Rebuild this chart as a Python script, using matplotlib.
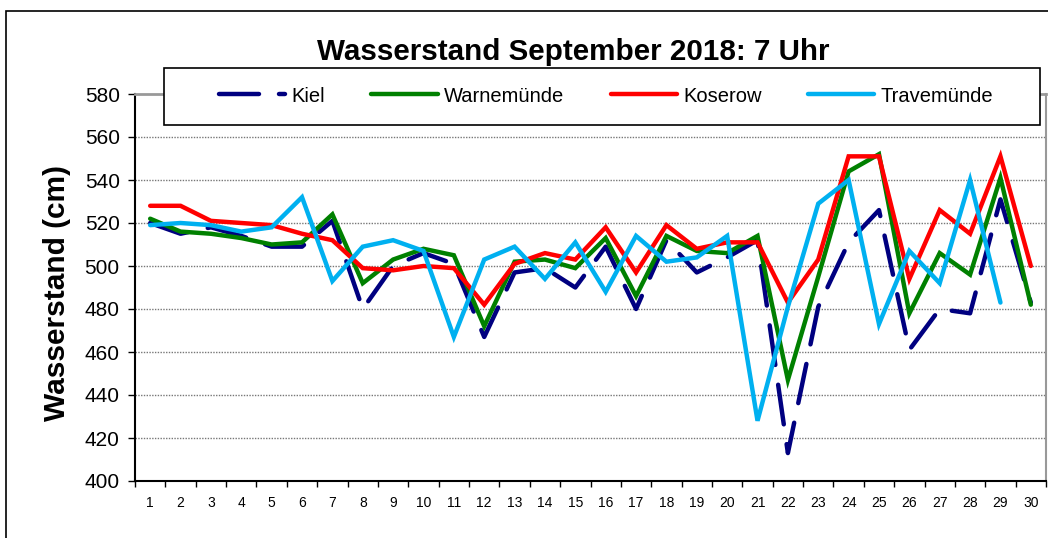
import matplotlib
matplotlib.use('Agg')
import matplotlib.pyplot as plt
from matplotlib.patches import Rectangle
import numpy as np

plt.rcParams['font.family'] = ['Liberation Sans', 'DejaVu Sans']

# water levels, September 2018, 7 o'clock (cm)
days = list(range(1, 31))
kiel = [520, 515, 518, 514, 509, 509, 521, 480, 500, 506,
        501, 467, 497, 499, 490, 509, 480, 512, 497, 504,
        512, 413, 481, 511, 526, 461, 480, 478, 531, 483]
warnemuende = [522, 516, 515, 513, 510, 511, 524, 492, 503, 508,
               505, 472, 502, 503, 499, 513, 486, 514, 507, 506,
               514, 447, 495, 544, 552, 478, 506, 496, 541, 482]
koserow = [528, 528, 521, 520, 519, 515, 512, 499, 498, 500,
           499, 482, 501, 506, 503, 518, 497, 519, 508, 511,
           511, 483, 503, 551, 551, 494, 526, 515, 551, 500]
travemuende = [519, 520, 519, 516, 518, 532, 493, 509, 512, 507,
               467, 503, 509, 494, 511, 488, 514, 502, 504, 514,
               428, 481, 529, 540, 473, 507, 492, 540, 483, None]

series = [
    ('Kiel', kiel, '#000080', (0, (9, 4.5))),
    ('Warnemünde', warnemuende, '#008000', '-'),
    ('Koserow', koserow, '#FF0000', '-'),
    ('Travemünde', travemuende, '#00B0F0', '-'),
]

W, H = 1048, 538
fig = plt.figure(figsize=(W / 100, H / 100), dpi=100)
ax = fig.add_axes([135 / W, 1 - 481 / H, (1046 - 135) / W, (481 - 94) / H])

# outer chart border
fig.patches.append(Rectangle((6 / W, -0.1), 1.2, 1 - 11 / H + 0.1, transform=fig.transFigure,
                             fill=False, edgecolor='black', linewidth=1.2, zorder=0))

for name, vals, color, ls in series:
    y = np.array([np.nan if v is None else v for v in vals], dtype=float)
    ax.plot(days, y, color=color, linestyle=ls, linewidth=3.2, label=name,
            solid_capstyle='round', dash_capstyle='round', solid_joinstyle='miter')

ax.set_xlim(0.5, 30.5)
ax.set_ylim(400, 580)
ax.set_yticks(np.arange(400, 581, 20))
ax.set_xticks(days)
ax.set_xticks(np.arange(0.5, 31, 1), minor=True)
ax.tick_params(axis='x', which='major', length=0, labelsize=10, pad=11)
ax.tick_params(axis='x', which='minor', length=4, width=1, direction='out')
ax.tick_params(axis='y', length=5, width=1, direction='out', labelsize=15, pad=6)

for yv in np.arange(420, 580, 20):
    ax.axhline(yv, color='#777777', linewidth=1, linestyle=(0, (1, 1)), zorder=0)

ax.spines['left'].set_color('black')
ax.spines['bottom'].set_color('black')
ax.spines['left'].set_linewidth(1.5)
ax.spines['bottom'].set_linewidth(1.5)
ax.spines['top'].set_color('#999999')
ax.spines['right'].set_color('#999999')
ax.spines['top'].set_linewidth(2)
ax.spines['right'].set_linewidth(1.5)

ax.set_ylabel('Wasserstand (cm)', fontsize=21.5, fontweight='bold')
ax.yaxis.set_label_coords(-0.070, 0.486)
fig.text(573 / W, 1 - 52 / H, 'Wasserstand September 2018: 7 Uhr', fontsize=21.3,
         fontweight='bold', ha='center', va='center')

# legend box
fig.patches.append(Rectangle((164 / W, 1 - 125 / H), (1040 - 164) / W, (125 - 68) / H,
                             transform=fig.transFigure, facecolor='white',
                             edgecolor='black', linewidth=1.2, zorder=5))
handles, labels = ax.get_legend_handles_labels()
leg = fig.legend(handles, labels, loc='center', bbox_to_anchor=(606 / W, 1 - 96 / H),
                 ncol=4, frameon=False, fontsize=14.5, handlelength=3.3,
                 handletextpad=0.3, columnspacing=2.3)
leg.set_zorder(6)

fig.savefig('out.png', dpi=100)
